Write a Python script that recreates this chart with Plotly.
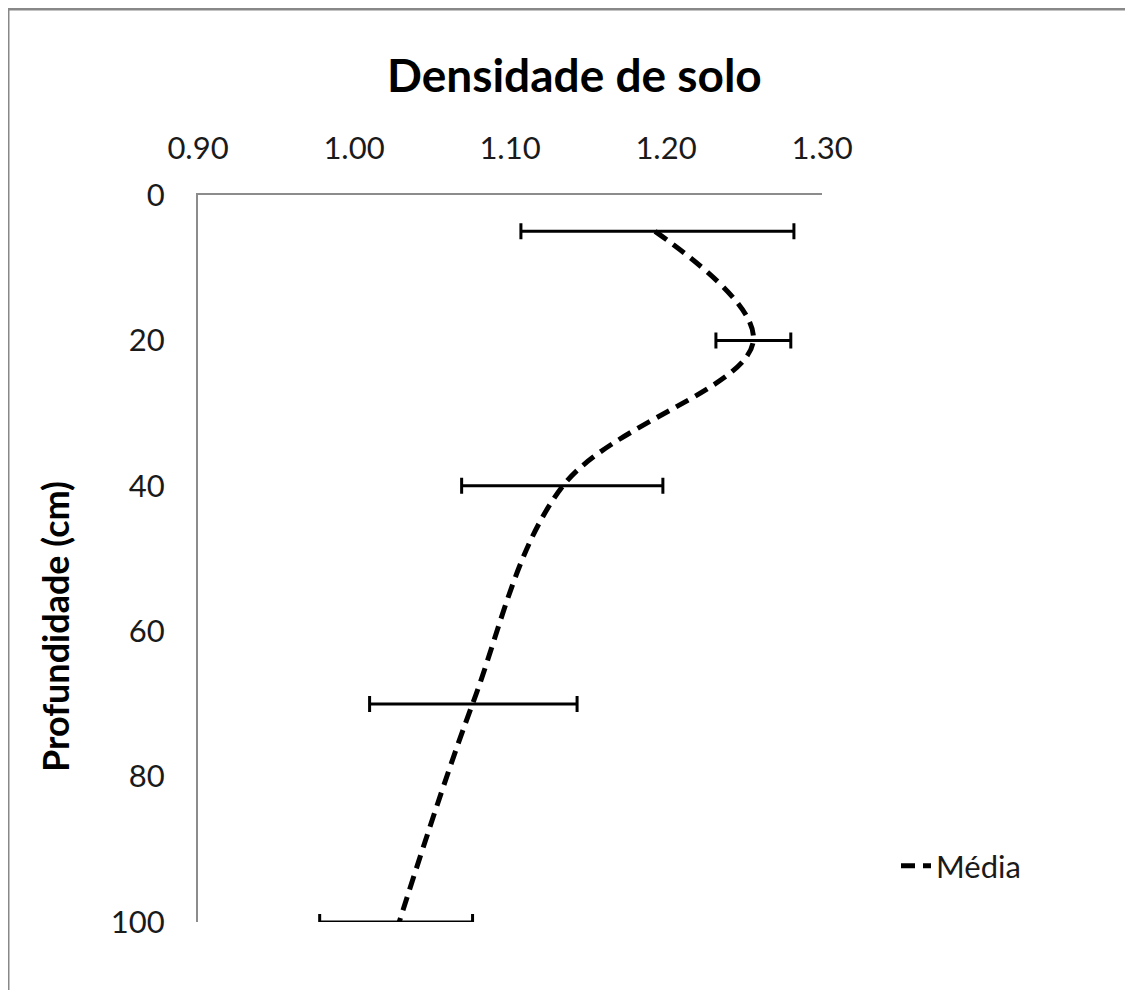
import plotly.graph_objects as go

# ---- data ----
depth_cm = [5, 20, 40, 70, 100]
density_mean = [1.193, 1.256, 1.134, 1.076, 1.029]
err_plus = [0.089, 0.024, 0.064, 0.067, 0.047]
err_minus = [0.086, 0.024, 0.065, 0.066, 0.051]
x_ticks = [0.90, 1.00, 1.10, 1.20, 1.30]
y_ticks = [0, 20, 40, 60, 80, 100]

OFF = 8  # page body margin
W, H = 1133 - 2 * OFF, 998 - 2 * OFF
L, R, T, B = 198 - OFF, 822 - OFF, 195 - OFF, 922 - OFF  # plot area in figure px

def px_x(px):
    return (px - OFF - L) / (R - L)

def px_y(py):
    return (B - (py - OFF)) / (B - T)

FONT = "Lato"
TXT = "#1a1a1a"
AX = "#8c8c8c"

fig = go.Figure()
fig.add_trace(go.Scatter(
    x=density_mean, y=depth_cm, mode="lines", name="Média",
    line=dict(color="black", width=5, dash="14px,8px", shape="spline", smoothing=1),
    error_x=dict(type="data", symmetric=False, array=err_plus, arrayminus=err_minus,
                 color="black", thickness=3, width=8),
))

fig.update_layout(
    width=W, height=H,
    margin=dict(l=L, r=W - R, t=T, b=H - B, pad=0, autoexpand=False),
    paper_bgcolor="white", plot_bgcolor="white",
    font=dict(family=FONT, color=TXT),
    showlegend=True,
    legend=dict(xref="container", yref="container", x=(896 - OFF) / W, y=1 - (866 - OFF) / H,
                xanchor="left", yanchor="middle", font=dict(size=31, family=FONT, color=TXT),
                bgcolor="rgba(0,0,0,0)", itemwidth=30),
    annotations=[
        dict(text="<b>Densidade de solo</b>", xref="paper", yref="paper",
             x=px_x(574), y=px_y(75), xanchor="center", yanchor="middle",
             showarrow=False, font=dict(size=46, family=FONT, color="black")),
        dict(text="<b>Profundidade (cm)</b>", xref="paper", yref="paper",
             x=px_x(55), y=px_y(627), xanchor="center", yanchor="middle", textangle=-90,
             showarrow=False, font=dict(size=36, family=FONT, color="black")),
    ],
    shapes=[
        dict(type="line", xref="paper", yref="paper", x0=px_x(7.5), x1=px_x(1133),
             y0=px_y(8.5), y1=px_y(8.5), line=dict(color="#888888", width=4)),
        dict(type="line", xref="paper", yref="paper", x0=px_x(7.5), x1=px_x(7.5),
             y0=px_y(8.5), y1=px_y(998), line=dict(color="#888888", width=4)),
    ],
)

fig.update_xaxes(
    side="top", range=[0.90, 1.30], tickvals=x_ticks, tickformat=".2f",
    showgrid=False, zeroline=False, showline=True, linecolor=AX, linewidth=2,
    ticks="outside", ticklen=22, tickcolor="rgba(0,0,0,0)",
    tickfont=dict(size=31, family=FONT, color=TXT),
)
fig.update_yaxes(
    range=[100, 0], tickvals=y_ticks,
    showgrid=False, zeroline=False, showline=True, linecolor=AX, linewidth=2,
    ticks="outside", ticklen=25, tickcolor="rgba(0,0,0,0)",
    tickfont=dict(size=31, family=FONT, color=TXT),
)

fig.write_html("out.html", config={"displayModeBar": False})
